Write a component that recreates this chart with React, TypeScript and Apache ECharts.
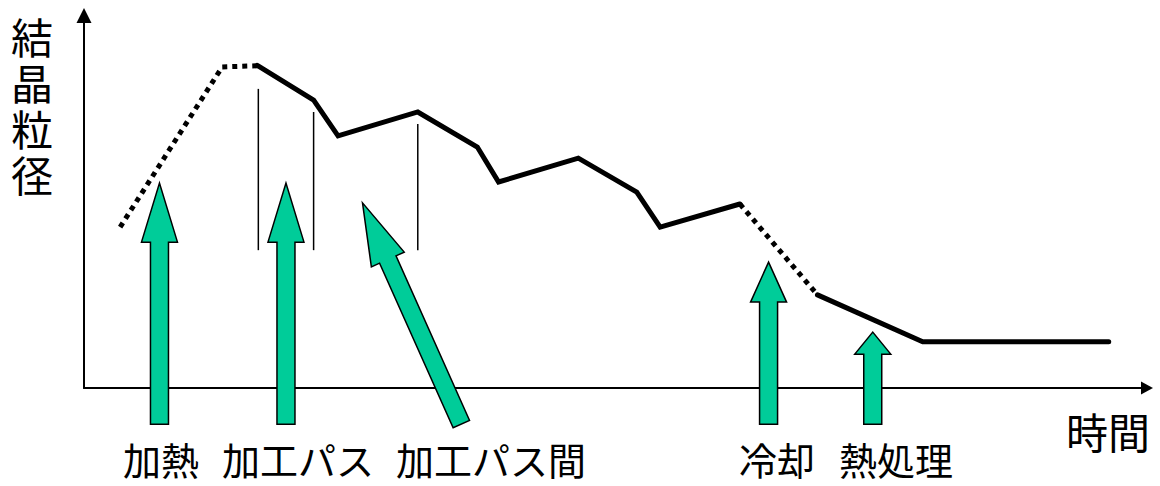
import React, { useEffect, useRef } from "react";
import * as echarts from "echarts";

// Grain size (y, 0-100) against time (x, 0-100)
const heatingCurve = [[3.4, 43.2], [13.0, 86.2], [16.3, 86.5]];
const processCurve = [
  [16.3, 86.6], [21.6, 77.3], [23.9, 67.7], [31.4, 74.1], [37.0, 64.7],
  [39.0, 55.3], [46.5, 61.7], [52.0, 52.6], [54.2, 43.2], [61.7, 49.4],
];
const coolingCurve = [[61.7, 49.4], [69.0, 25.0]];
const heatTreatCurve = [[69.0, 25.0], [78.9, 12.4], [96.4, 12.4]];

// thin vertical markers: [time, from, to]
const passMarkers = [[16.4, 37.0, 80.3], [21.6, 37.0, 74.1], [31.4, 37.0, 70.9]];

// process arrows: tail and tip
const arrowLabels = ["加熱", "加工パス", "加工パス間", "冷却", "熱処理"];
const arrowTail = [[7.1, -9.7], [19.0, -9.7], [35.5, -9.7], [64.4, -9.7], [74.2, -9.7]];
const arrowTip = [[7.1, 55.0], [19.0, 55.0], [26.2, 49.7], [64.4, 33.8], [74.2, 15.0]];

const yAxisName = "結晶粒径";
const xAxisName = "時間";

// styles
const ARROW_HEAD_LEN = [59, 59, 62, 40, 22];
const ARROW_HEAD_W = 36;
const ARROW_SHAFT_W = 18;
const ARROW_FILL = "#00cc99";
const LABEL_POS = [[161, 458], [298, 458], [491, 458], [777, 458], [896, 458]];
const FONT = '"Noto Sans CJK JP", "Noto Sans", sans-serif';

export default function App() {
  const ref = useRef<HTMLDivElement>(null);
  useEffect(() => {
    if (!ref.current) return;
    const chart = echarts.init(ref.current, null, { renderer: "svg" });
    const arrowData = arrowTail.map((t, i) => [t[0], t[1], arrowTip[i][0], arrowTip[i][1]]);
    const option: any = {
      animation: false,
      backgroundColor: "#ffffff",
      grid: { left: 84, right: 13, top: 15.5, bottom: 98, containLabel: false },
      xAxis: {
        type: "value",
        min: 0,
        max: 100,
        axisLine: {
          show: true,
          onZero: false,
          symbol: ["none", "triangle"],
          symbolSize: [13, 12],
          lineStyle: { color: "#000", width: 2 },
        },
        axisTick: { show: false },
        axisLabel: { show: false },
        splitLine: { show: false },
      },
      yAxis: {
        type: "value",
        min: 0,
        max: 100,
        axisLine: {
          show: true,
          onZero: false,
          symbol: ["none", "triangle"],
          symbolSize: [15, 15],
          lineStyle: { color: "#000", width: 2 },
        },
        axisTick: { show: false },
        axisLabel: { show: false },
        splitLine: { show: false },
      },
      series: [
        {
          type: "line",
          data: heatingCurve,
          symbol: "none",
          lineStyle: { color: "#000", width: 5, type: "dotted", cap: "butt" },
          z: 3,
        },
        {
          type: "line",
          data: processCurve,
          symbol: "none",
          lineStyle: { color: "#000", width: 5, type: "solid", cap: "round", join: "miter" },
          z: 3,
        },
        {
          type: "line",
          data: coolingCurve,
          symbol: "none",
          lineStyle: { color: "#000", width: 5, type: "dotted", cap: "butt" },
          z: 3,
        },
        {
          type: "line",
          data: heatTreatCurve,
          symbol: "none",
          lineStyle: { color: "#000", width: 5, type: "solid", cap: "round", join: "miter" },
          z: 3,
        },
        {
          type: "custom",
          data: passMarkers,
          clip: false,
          z: 2,
          renderItem: (params: any, api: any) => {
            const p0 = api.coord([api.value(0), api.value(1)]);
            const p1 = api.coord([api.value(0), api.value(2)]);
            return {
              type: "line",
              shape: { x1: p0[0], y1: p0[1], x2: p1[0], y2: p1[1] },
              style: { stroke: "#000", lineWidth: 1.5 },
            };
          },
        },
        {
          type: "custom",
          data: arrowData,
          clip: false,
          z: 4,
          renderItem: (params: any, api: any) => {
            const a = api.coord([api.value(0), api.value(1)]);
            const b = api.coord([api.value(2), api.value(3)]);
            const dx = b[0] - a[0];
            const dy = b[1] - a[1];
            const len = Math.sqrt(dx * dx + dy * dy);
            const ux = dx / len;
            const uy = dy / len;
            const px = -uy;
            const py = ux;
            const hl = ARROW_HEAD_LEN[params.dataIndex];
            const hb = [b[0] - ux * hl, b[1] - uy * hl];
            const sw = ARROW_SHAFT_W / 2;
            const hw = ARROW_HEAD_W / 2;
            const pts = [
              [a[0] + px * sw, a[1] + py * sw],
              [hb[0] + px * sw, hb[1] + py * sw],
              [hb[0] + px * hw, hb[1] + py * hw],
              [b[0], b[1]],
              [hb[0] - px * hw, hb[1] - py * hw],
              [hb[0] - px * sw, hb[1] - py * sw],
              [a[0] - px * sw, a[1] - py * sw],
            ];
            return {
              type: "polygon",
              shape: { points: pts },
              style: { fill: ARROW_FILL, stroke: "#000", lineWidth: 1.5, lineJoin: "miter" },
            };
          },
        },
      ],
      graphic: [
        ...arrowLabels.map((t, i) => ({
          type: "text",
          x: LABEL_POS[i][0],
          y: LABEL_POS[i][1],
          style: {
            text: t,
            fill: "#000",
            font: `38px ${FONT}`,
            textAlign: "center",
            textVerticalAlign: "middle",
          },
        })),
        {
          type: "text",
          x: 1108,
          y: 430,
          style: {
            text: xAxisName,
            fill: "#000",
            font: `42px ${FONT}`,
            textAlign: "center",
            textVerticalAlign: "middle",
          },
        },
        ...yAxisName.split("").map((ch, i) => ({
          type: "text",
          x: 32,
          y: 35 + i * 46,
          style: {
            text: ch,
            fill: "#000",
            font: `42px ${FONT}`,
            lineHeight: 44,
            textAlign: "center",
            textVerticalAlign: "middle",
          },
        })),
      ],
    };
    chart.setOption(option);
    return () => chart.dispose();
  }, []);
  return (
    <div
      ref={ref}
      style={{ position: "fixed", left: 0, top: 0, width: 1160, height: 486, background: "#fff" }}
    />
  );
}
